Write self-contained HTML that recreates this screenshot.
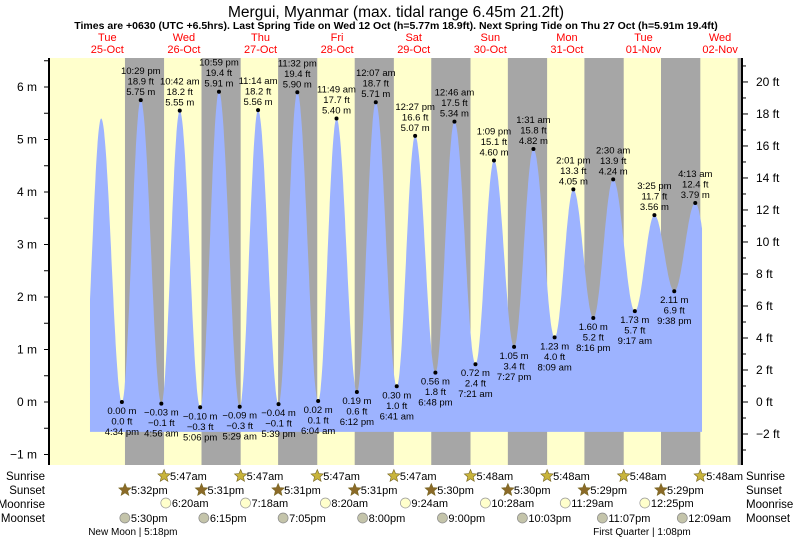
<!DOCTYPE html>
<html><head><meta charset="utf-8"><style>
body{margin:0;background:#fff;}
svg{display:block;font-family:"Liberation Sans",sans-serif;}
</style></head><body>
<svg id="chart" width="793" height="539" viewBox="0 0 793 539" xmlns="http://www.w3.org/2000/svg">
<text x="396" y="17" text-anchor="middle" font-size="15.5">Mergui, Myanmar (max. tidal range 6.45m 21.2ft)</text>
<text x="396" y="29" text-anchor="middle" font-size="10.5" font-weight="bold">Times are +0630 (UTC +6.5hrs). Last Spring Tide on Wed 12 Oct (h=5.77m 18.9ft). Next Spring Tide on Thu 27 Oct (h=5.91m 19.4ft)</text>
<g id="days"></g>
<g id="bands"></g>
<g id="tide"></g>
<g id="axes"></g>
<g id="labels"></g>
<g id="astro"></g>
</svg>
<script>
// ---- data ----
const dayNames = ["Tue","Wed","Thu","Fri","Sat","Sun","Mon","Tue","Wed"];
const dayDates = ["25-Oct","26-Oct","27-Oct","28-Oct","29-Oct","30-Oct","31-Oct","01-Nov","02-Nov"];
const extTime = ["4:10 am","10:05 am","4:34 pm","10:29 pm","4:56 am","10:42 am","5:06 pm","10:59 pm","5:29 am","11:14 am","5:39 pm","11:32 pm","6:04 am","11:49 am","6:12 pm","12:07 am","6:41 am","12:27 pm","6:48 pm","12:46 am","7:21 am","1:09 pm","7:27 pm","1:31 am","8:09 am","2:01 pm","8:16 pm","2:30 am","9:17 am","3:25 pm","9:38 pm","4:13 am","10:40 am"];
const extHeight = [0.05,5.40,0.00,5.75,-0.03,5.55,-0.10,5.91,-0.09,5.56,-0.04,5.90,0.02,5.40,0.19,5.71,0.30,5.07,0.56,5.34,0.72,4.60,1.05,4.82,1.23,4.05,1.60,4.24,1.73,3.56,2.11,3.79,1.80];
const extLabeled = [0,0,1,1,1,1,1,1,1,1,1,1,1,1,1,1,1,1,1,1,1,1,1,1,1,1,1,1,1,1,1,1,0];
const sunriseTimes = ["5:47am","5:47am","5:47am","5:47am","5:48am","5:48am","5:48am","5:48am"];
const sunsetTimes = ["5:32pm","5:31pm","5:31pm","5:31pm","5:30pm","5:30pm","5:29pm","5:29pm","5:29pm"];
const moonriseTimes = ["6:20am","7:18am","8:20am","9:24am","10:28am","11:29am","12:25pm"];
const moonsetTimes = ["5:30pm","6:15pm","7:05pm","8:00pm","9:00pm","10:03pm","11:07pm","12:09am"];
const mTicks = [-1,0,1,2,3,4,5,6];
const ftTicks = [-2,0,2,4,6,8,10,12,14,16,18,20];
</script>
<script>
const NS="http://www.w3.org/2000/svg";
const X0=69, PXD=76.6, Y0=402, PXM=52.5, L=49, R=742, T=58, B=465;
const xT=d=>X0+PXD*d, yM=m=>Y0-PXM*m;
function parseT(s){const p=s.match(/(\d+):(\d+)\s*(am|pm)/);let h=+p[1]%12;if(p[3]=="pm")h+=12;return (h+ +p[2]/60)/24;}
function mk(tag,attrs,par,txt){const e=document.createElementNS(NS,tag);for(const k in attrs)e.setAttribute(k,attrs[k]);if(txt!==undefined)e.textContent=txt;par.appendChild(e);return e;}
const g=id=>document.getElementById(id);
const extDays=[0,0,0,0,1,1,1,1,2,2,2,2,3,3,3,4,4,4,4,5,5,5,5,6,6,6,6,7,7,7,7,8,8];
const extT=extTime.map((s,i)=>extDays[i]+parseT(s));
dayNames.forEach((n,i)=>{
  let t=mk('text',{x:xT(i+0.5),y:41,'text-anchor':'middle','font-size':11,fill:'#f00'},g('days'),n);
  
  let d=mk('text',{x:xT(i+0.5),y:53,'text-anchor':'middle','font-size':11,fill:'#f00'},g('days'),dayDates[i]);
  
});
let bg=mk('rect',{x:L,y:T,width:R-L,height:B-T,fill:'#ffffcc'},g('bands'));

sunsetTimes.forEach((s,i)=>{
  const a=xT(i+parseT(s)); const b=i<sunriseTimes.length?xT(i+1+parseT(sunriseTimes[i])):R;
  let r=mk('rect',{x:a,y:T,width:Math.min(b,R)-a,height:B-T,fill:'#a6a6a6'},g('bands'));
  
});
const tStart=0.274, tEnd=8.264;
function h(t){for(let i=0;i<extT.length-1;i++){if(t>=extT[i]&&t<=extT[i+1]){const f=(t-extT[i])/(extT[i+1]-extT[i]);return extHeight[i]+(extHeight[i+1]-extHeight[i])*(1-Math.cos(Math.PI*f))/2;}}return extHeight[extHeight.length-1];}
let d=`M${xT(tStart)},${yM(-0.57)}`;
for(let t=tStart;t<=tEnd;t+=0.005)d+=` L${xT(t).toFixed(1)},${yM(h(t)).toFixed(1)}`;
d+=` L${xT(tEnd)},${yM(h(tEnd))} L${xT(tEnd)},${yM(-0.57)} Z`;
let tp=mk('path',{d:d,fill:'#9db3ff'},g('tide'));

const ax=g('axes');
let la=mk('line',{x1:L,y1:T,x2:L,y2:B,stroke:'#000','stroke-width':2},ax);
let ra=mk('line',{x1:R,y1:T,x2:R,y2:B,stroke:'#000','stroke-width':2},ax);
for(let m=-1;m<=6.5;m+=0.5){mk('line',{x1:L-5,y1:yM(m),x2:L,y2:yM(m),stroke:'#000'},ax);}
mTicks.forEach(m=>{let t=mk('text',{x:L-12,y:yM(m)+4,'text-anchor':'end','font-size':12},ax,(m<0?'−'+(-m):m)+' m');});
for(let f=-3;f<=21;f++){const y=Y0-PXM*f/3.28084;if(y<T||y>B)continue;mk('line',{x1:R,y1:y,x2:R+(f%2==0?6:4),y2:y,stroke:'#000'},ax);}
ftTicks.forEach(f=>{let t=mk('text',{x:R+14,y:Y0-PXM*f/3.28084+4,'font-size':12},ax,(f<0?'−'+(-f):f)+' ft');});
const lab=g('labels');
const fmt=(v,n)=>{const s=Math.abs(v).toFixed(n);return (v<0&&+s!==0?'−':(v<0?'−':''))+s;};
extT.forEach((t,i)=>{
  if(!extLabeled[i])return;
  const x=xT(t),y=yM(extHeight[i]),m=extHeight[i];const ft=m*3.28084;
  let c=mk('circle',{cx:x,cy:y,r:2,fill:'#000'},lab);
  const high=i%2==1;
  const lines=high?[extTime[i],fmt(ft,1)+' ft',fmt(m,2)+' m']:[fmt(m,2)+' m',fmt(ft,1)+' ft',extTime[i]];
  lines.forEach((s,k)=>{const yy=high?y-5-(2-k)*10.5:y+12+k*10.5;
    let tx=mk('text',{x:x,y:yy,'text-anchor':'middle','font-size':9.5},lab,s);});
});
const as=g('astro');
[["Sunrise",480],["Sunset",494],["Moonrise",508],["Moonset",522]].forEach(([n,y])=>{
  let a=mk('text',{x:45,y:y,'text-anchor':'end','font-size':11.5},as,n);
  let b=mk('text',{x:746,y:y,'font-size':11.5},as,n);
});
function star(x,y,fill,r){let p='';for(let k=0;k<10;k++){const a=-Math.PI/2+k*Math.PI/5,rr=k%2?r*0.45:r;p+=(k?'L':'M')+(x+rr*Math.cos(a)).toFixed(1)+','+(y+rr*Math.sin(a)).toFixed(1);}return mk('path',{d:p+'Z',fill:fill,stroke:'#776622','stroke-width':0.6},as);}
sunriseTimes.forEach((s,i)=>{const x=xT(i+1+parseT(s));let st=star(x,476,'#c8b43c',6.5);
  let t=mk('text',{x:x+6,y:480,'font-size':11},as,s);});
sunsetTimes.slice(0,8).forEach((s,i)=>{const x=xT(i+parseT(s));let st=star(x,490,'#8b6a28',6.5);
  let t=mk('text',{x:x+6,y:494,'font-size':11},as,s);});
moonriseTimes.forEach((s,i)=>{const x=xT(i+1+parseT(s));let c=mk('circle',{cx:x,cy:503,r:5,fill:'#ffffcc',stroke:'#999','stroke-width':0.7},as);
  let t=mk('text',{x:x+6,y:507,'font-size':11},as,s);});
moonsetTimes.forEach((s,i)=>{const x=xT(i+parseT(s)+(s.indexOf('am')>0?1:0));let c=mk('circle',{cx:x,cy:518,r:5,fill:'#c4c4aa',stroke:'#888','stroke-width':0.7},as);
  let t=mk('text',{x:x+6,y:522,'font-size':11},as,s);});
[["New Moon | 5:18pm",0,"5:18 pm",38],["First Quarter | 1:08pm",7,"1:08 pm",56]].forEach(([s,dd,tm,off])=>{
  const x=xT(dd+parseT(tm));let t=mk('text',{x:x-off+2,y:535,'font-size':10},as,s);});
</script>
</body></html>
